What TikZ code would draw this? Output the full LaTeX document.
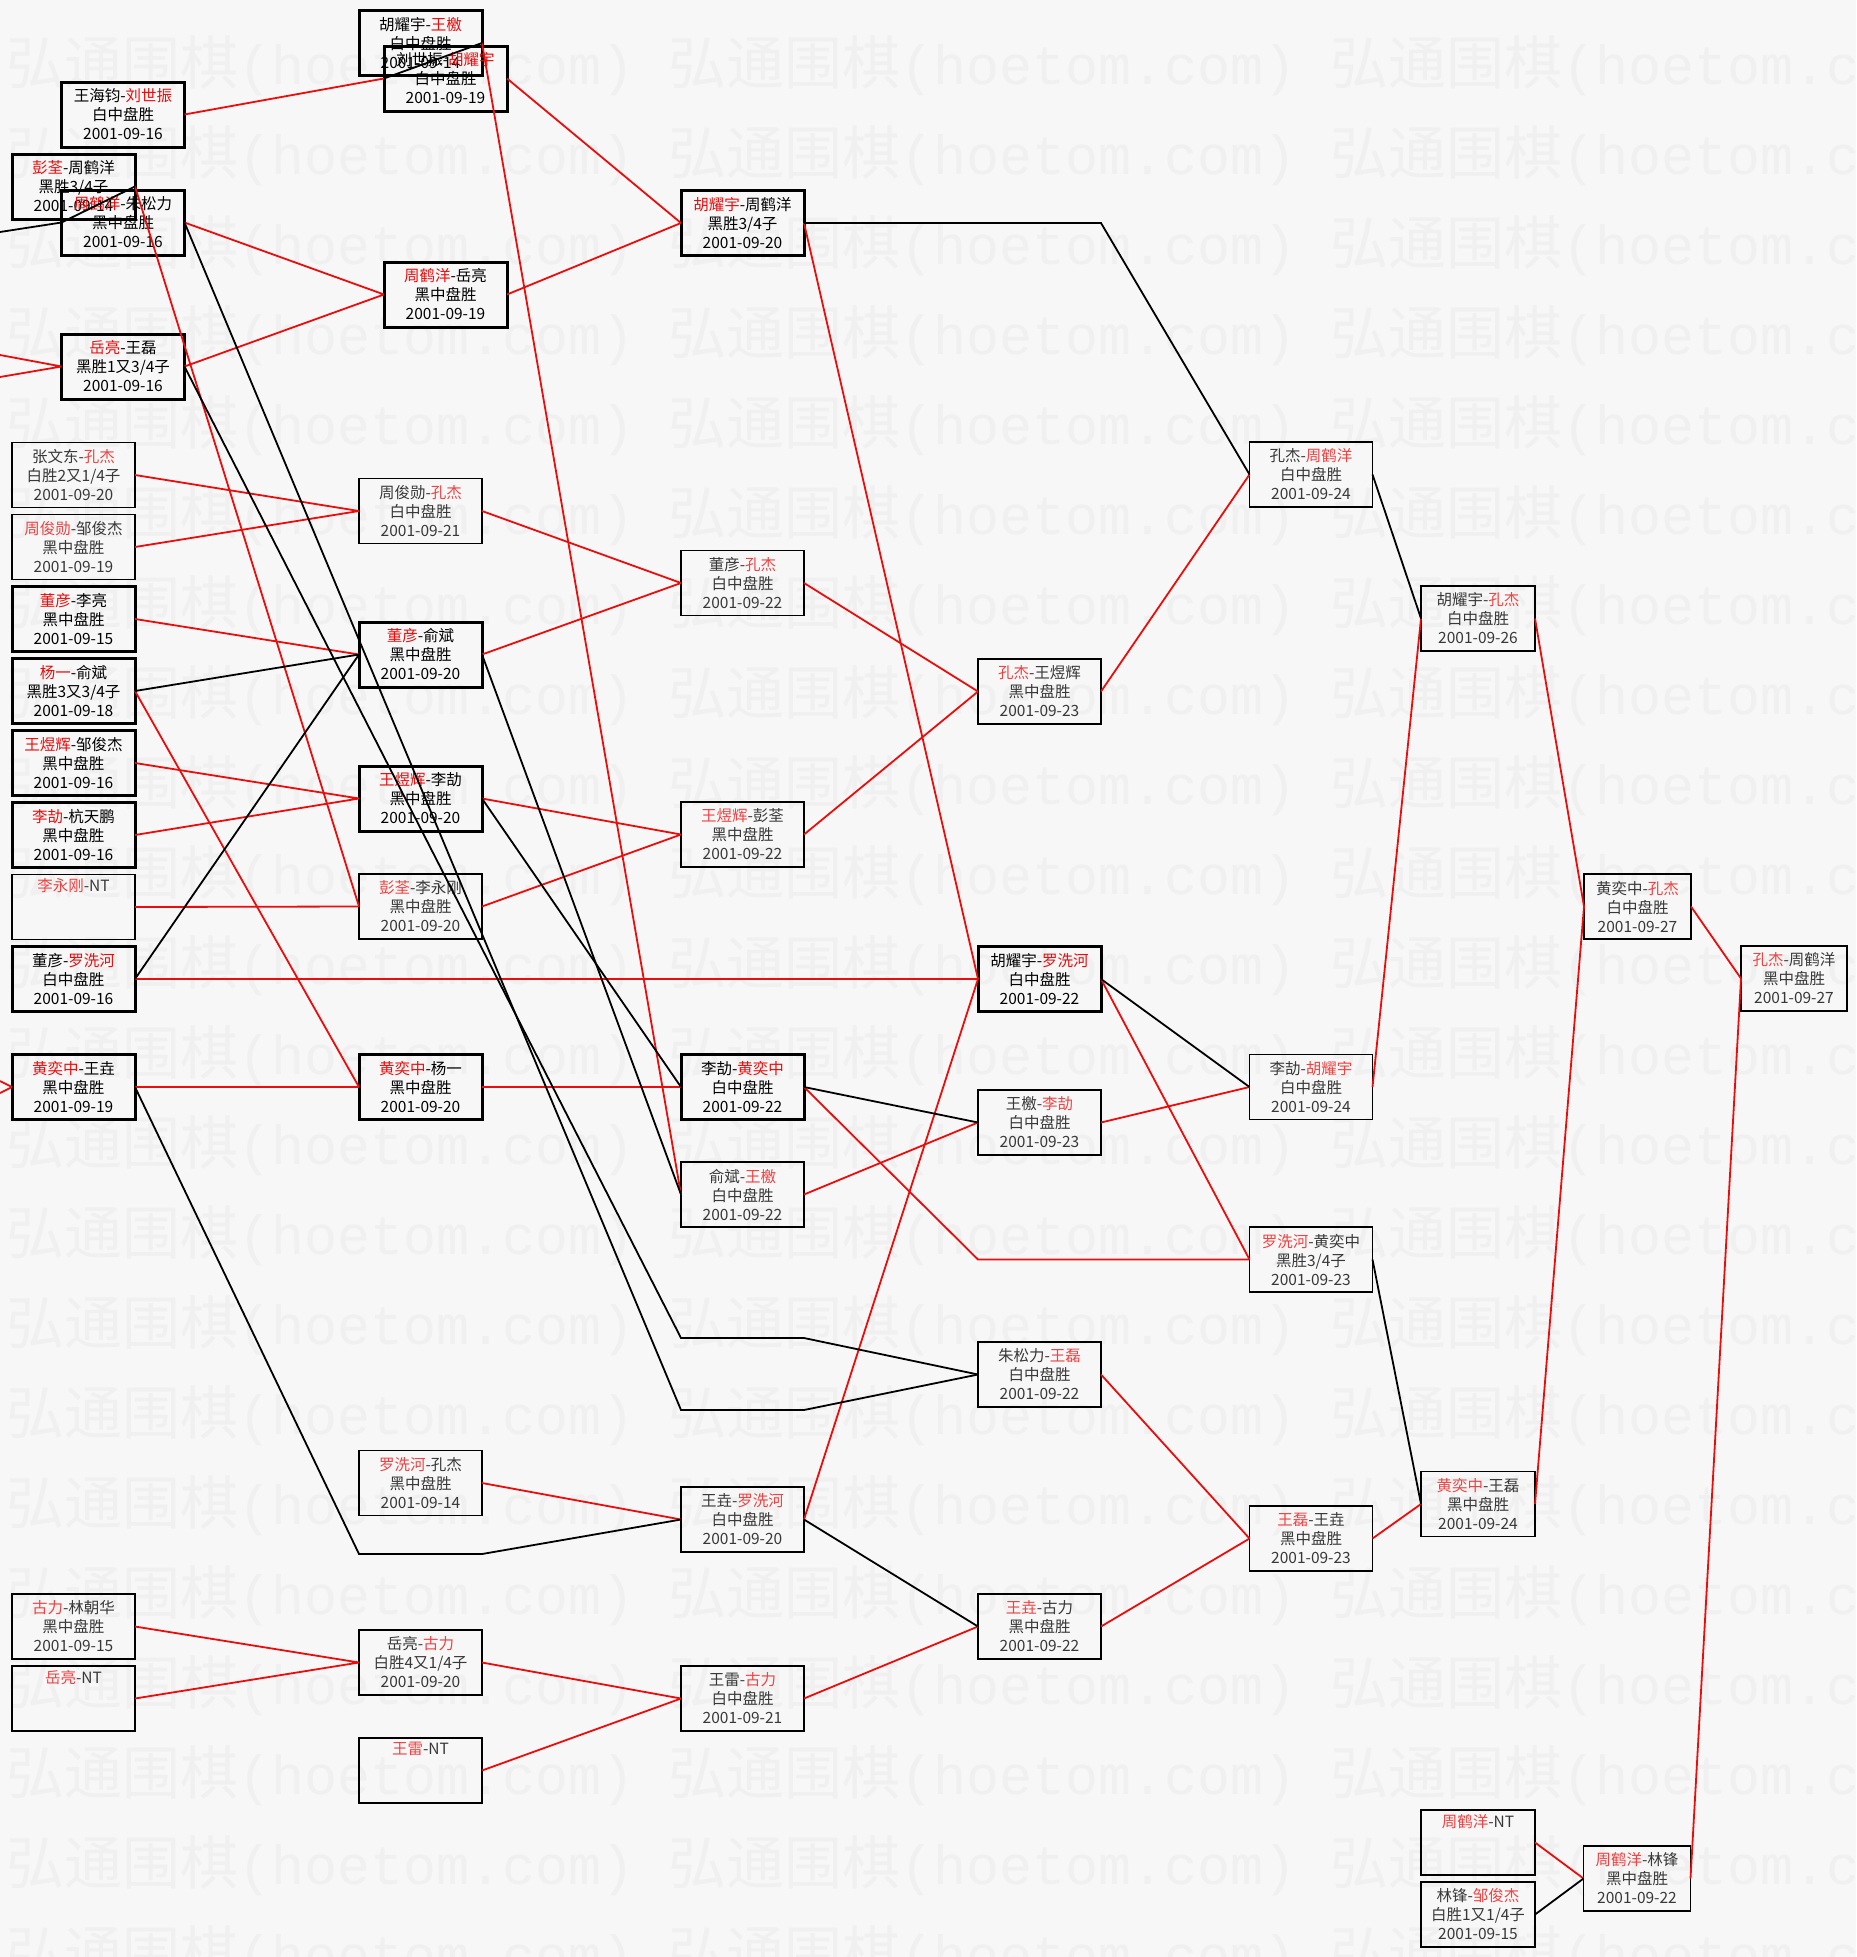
\documentclass[tikz,border=0pt]{standalone}
\usepackage{fontspec}
\newfontfamily\cjk{Noto Sans CJK SC}
\newfontfamily\wmlatin{Liberation Mono}
\usetikzlibrary{positioning}

\definecolor{winred}{RGB}{235,12,12}
\definecolor{paper}{RGB}{247,247,247}
\definecolor{wmgray}{RGB}{240,240,240}
\colorlet{wincol}{winred}
\newcommand{\winner}[1]{\textcolor{wincol}{#1}}

\begin{document}
\begin{tikzpicture}[x=1pt,y=-1pt]

\pgfmathsetmacro{\W}{123}
\pgfmathsetmacro{\Ht}{65}

\tikzset{
    game/.style={draw, line width=1.6pt, minimum width=\W pt, minimum height=\Ht pt,
      inner sep=0pt, outer sep=0pt, align=center, text=black!78,
      font=\cjk\fontsize{15.5}{19}\selectfont,
      execute at begin node={\colorlet{wincol}{winred!78}}},
    keygame/.style={game, line width=3pt, text=black,
      execute at begin node={\colorlet{wincol}{winred}}},
    winline/.style={draw=winred, line width=1.8pt},
    loseline/.style={draw=black, line width=1.8pt},
    watermark/.style={anchor=west, text=wmgray, inner sep=0pt,
      font=\cjk\fontsize{58}{58}\selectfont}
}

%%%%%%%%%%%%%%%%%%%%%%%%%%%%%%%%%%%%%%%%%%%%%%%%%%%%%%%%%
%                       Begin Picture                   %
%%%%%%%%%%%%%%%%%%%%%%%%%%%%%%%%%%%%%%%%%%%%%%%%%%%%%%%%%

\useasboundingbox (0,0) rectangle (1856,1957);
\fill[paper] (0,0) rectangle (1856,1957);

%background watermark
\begin{scope}
\clip (0,0) rectangle (1856,1957);
\foreach \r in {0,...,21}{
  \foreach \c in {0,1,2}{
    \node[watermark] (wm-\r-\c) at (6+662*\c, 66+90*\r)
      {弘通围棋{\wmlatin\fontsize{55}{55}\selectfont (hoetom.com)}};
  }
}
\end{scope}

%first column
\node[keygame] (a1) at (123,114.5) {王海钧-\winner{刘世振}\\白中盘胜\\2001-09-16};
\node[keygame] (a2) at (73.5,186.5) {\winner{彭荃}-周鹤洋\\黑胜3/4子\\2001-09-14};
\node[keygame] (a3) at (123,222.5) {\winner{周鹤洋}-朱松力\\黑中盘胜\\2001-09-16};
\node[keygame] (a4) at (123,366.5) {\winner{岳亮}-王磊\\黑胜1又3/4子\\2001-09-16};
\node[game] (a5) at (73.5,475) {张文东-\winner{孔杰}\\白胜2又1/4子\\2001-09-20};
\node[game, below=7pt of a5] (a6) {\winner{周俊勋}-邹俊杰\\黑中盘胜\\2001-09-19};
\node[keygame, below=7pt of a6] (a7) {\winner{董彦}-李亮\\黑中盘胜\\2001-09-15};
\node[keygame, below=7pt of a7] (a8) {\winner{杨一}-俞斌\\黑胜3又3/4子\\2001-09-18};
\node[keygame, below=7pt of a8] (a9) {\winner{王煜辉}-邹俊杰\\黑中盘胜\\2001-09-16};
\node[keygame, below=7pt of a9] (a10) {\winner{李劼}-杭天鹏\\黑中盘胜\\2001-09-16};
\node[game, below=7pt of a10] (a11) {\winner{李永刚}-NT\\\strut\\\strut};
\node[keygame, below=7pt of a11] (a12) {董彦-\winner{罗洗河}\\白中盘胜\\2001-09-16};
\node[keygame] (a13) at (73.5,1087) {\winner{黄奕中}-王垚\\黑中盘胜\\2001-09-19};
\node[game] (a14) at (73.5,1626.5) {\winner{古力}-林朝华\\黑中盘胜\\2001-09-15};
\node[game, below=7pt of a14] (a15) {\winner{岳亮}-NT\\\strut\\\strut};

%second column
\node[keygame] (b1) at (420.5,43) {胡耀宇-\winner{王檄}\\白中盘胜\\2001-09-14};
\node[keygame] (b2) at (445.5,78.5) {刘世振-\winner{胡耀宇}\\白中盘胜\\2001-09-19};
\node[keygame] (b3) at (445.5,294.5) {\winner{周鹤洋}-岳亮\\黑中盘胜\\2001-09-19};
\node[game] (b4) at (420.5,511) {周俊勋-\winner{孔杰}\\白中盘胜\\2001-09-21};
\node[keygame] (b5) at (420.5,654.5) {\winner{董彦}-俞斌\\黑中盘胜\\2001-09-20};
\node[keygame] (b6) at (420.5,798.5) {\winner{王煜辉}-李劼\\黑中盘胜\\2001-09-20};
\node[game] (b7) at (420.5,906.5) {\winner{彭荃}-李永刚\\黑中盘胜\\2001-09-20};
\node[keygame] (b8) at (420.5,1087) {\winner{黄奕中}-杨一\\黑中盘胜\\2001-09-20};
\node[game] (b9) at (420.5,1483) {\winner{罗洗河}-孔杰\\黑中盘胜\\2001-09-14};
\node[game] (b10) at (420.5,1662.5) {岳亮-\winner{古力}\\白胜4又1/4子\\2001-09-20};
\node[game] (b11) at (420.5,1770.5) {\winner{王雷}-NT\\\strut\\\strut};

%third column
\node[keygame] (c1) at (742.5,223) {\winner{胡耀宇}-周鹤洋\\黑胜3/4子\\2001-09-20};
\node[game] (c2) at (742.5,583) {董彦-\winner{孔杰}\\白中盘胜\\2001-09-22};
\node[game] (c3) at (742.5,834.5) {\winner{王煜辉}-彭荃\\黑中盘胜\\2001-09-22};
\node[keygame] (c4) at (742.5,1087) {李劼-\winner{黄奕中}\\白中盘胜\\2001-09-22};
\node[game] (c5) at (742.5,1194.5) {俞斌-\winner{王檄}\\白中盘胜\\2001-09-22};
\node[game] (c6) at (742.5,1519.5) {王垚-\winner{罗洗河}\\白中盘胜\\2001-09-20};
\node[game] (c7) at (742.5,1698.5) {王雷-\winner{古力}\\白中盘胜\\2001-09-21};

%fourth column
\node[game] (d1) at (1039.5,691.5) {\winner{孔杰}-王煜辉\\黑中盘胜\\2001-09-23};
\node[keygame] (d2) at (1039.5,979) {胡耀宇-\winner{罗洗河}\\白中盘胜\\2001-09-22};
\node[game] (d3) at (1039.5,1122.5) {王檄-\winner{李劼}\\白中盘胜\\2001-09-23};
\node[game] (d4) at (1039.5,1374.5) {朱松力-\winner{王磊}\\白中盘胜\\2001-09-22};
\node[game] (d5) at (1039.5,1626.5) {\winner{王垚}-古力\\黑中盘胜\\2001-09-22};

%fifth column
\node[game] (e1) at (1311,474.5) {孔杰-\winner{周鹤洋}\\白中盘胜\\2001-09-24};
\node[game] (e2) at (1311,1087) {李劼-\winner{胡耀宇}\\白中盘胜\\2001-09-24};
\node[game] (e3) at (1311,1259.5) {\winner{罗洗河}-黄奕中\\黑胜3/4子\\2001-09-23};
\node[game] (e4) at (1311,1538.5) {\winner{王磊}-王垚\\黑中盘胜\\2001-09-23};

%sixth column
\node[game, minimum width=114pt] (f1) at (1478,618.5) {胡耀宇-\winner{孔杰}\\白中盘胜\\2001-09-26};
\node[game, minimum width=114pt] (f2) at (1478,1504) {\winner{黄奕中}-王磊\\黑中盘胜\\2001-09-24};
\node[game, minimum width=114pt] (f3) at (1478,1842.5) {\winner{周鹤洋}-NT\\\strut\\\strut};
\node[game, minimum width=114pt, below=7pt of f3] (f4) {林锋-\winner{邹俊杰}\\白胜1又1/4子\\2001-09-15};

%seventh column
\node[game, minimum width=107pt] (g1) at (1637.5,906.5) {黄奕中-\winner{孔杰}\\白中盘胜\\2001-09-27};
\node[game, minimum width=107pt] (g2) at (1637,1878.5) {\winner{周鹤洋}-林锋\\黑中盘胜\\2001-09-22};

%final
\node[game, minimum width=106pt] (h1) at (1794,978.5) {\winner{孔杰}-周鹤洋\\黑中盘胜\\2001-09-27};

%loose ends and bends
\coordinate (offA) at (0,232);
\coordinate (offB) at (0,355);
\coordinate (offC) at (0,377);
\coordinate (offD) at (0,1081);
\coordinate (offE) at (0,1093);
\coordinate (zhu1) at (681,1410);
\coordinate (zhu2) at (804,1410);
\coordinate (lei1) at (681,1338);
\coordinate (lei2) at (804,1338);
\coordinate (yao1) at (359,1554);
\coordinate (yao2) at (482,1554);

%winners
\draw[winline] (offB) -- (a4.west) (offC) -- (a4.west);
\draw[winline] (offD) -- (a13.west) (offE) -- (a13.west);
\draw[winline] (a1.east) -- (b2.west);
\draw[winline] (a2.east) -- (b7.west);
\draw[winline] (a3.east) -- (b3.west) (a4.east) -- (b3.west);
\draw[winline] (a5.east) -- (b4.west) (a6.east) -- (b4.west);
\draw[winline] (a7.east) -- (b5.west);
\draw[winline] (a8.east) -- (b8.west);
\draw[winline] (a9.east) -- (b6.west) (a10.east) -- (b6.west);
\draw[winline] (a11.east) -- (b7.west);
\draw[winline] (a12.east) -- (d2.west);
\draw[winline] (a13.east) -- (b8.west);
\draw[winline] (a14.east) -- (b10.west) (a15.east) -- (b10.west);

\draw[winline] (b1.east) -- (c5.west);
\draw[winline] (b2.east) -- (c1.west) (b3.east) -- (c1.west);
\draw[winline] (b4.east) -- (c2.west) (b5.east) -- (c2.west);
\draw[winline] (b6.east) -- (c3.west) (b7.east) -- (c3.west);
\draw[winline] (b8.east) -- (c4.west);
\draw[winline] (b9.east) -- (c6.west);
\draw[winline] (b10.east) -- (c7.west) (b11.east) -- (c7.west);

\draw[winline] (c1.east) -- (d2.west);
\draw[winline] (c2.east) -- (d1.west) (c3.east) -- (d1.west);
\draw[winline] (c4.east) -- (d2.west |- e3.west) -- (e3.west);
\draw[winline] (c5.east) -- (d3.west);
\draw[winline] (c6.east) -- (d2.west);
\draw[winline] (c7.east) -- (d5.west);

\draw[winline] (d1.east) -- (e1.west);
\draw[winline] (d2.east) -- (e3.west);
\draw[winline] (d3.east) -- (e2.west);
\draw[winline] (d4.east) -- (e4.west) (d5.east) -- (e4.west);

\draw[winline] (e2.east) -- (f1.west);
\draw[winline] (e4.east) -- (f2.west);
\draw[winline] (f1.east) -- (g1.west) (f2.east) -- (g1.west);
\draw[winline] (f3.east) -- (g2.west);
\draw[winline] (g1.east) -- (h1.west) (g2.east) -- (h1.west);

%losers
\draw[loseline] (offA) -- (a3.west);
\draw[loseline] (a2.east) -- (a3.west);
\draw[loseline] (a3.east) -- (zhu1) -- (zhu2) -- (d4.west);
\draw[loseline] (a4.east) -- (lei1) -- (lei2) -- (d4.west);
\draw[loseline] (a8.east) -- (b5.west) (a12.east) -- (b5.west);
\draw[loseline] (a13.east) -- (yao1) -- (yao2) -- (c6.west);
\draw[loseline] (b1.east) -- (b2.west);
\draw[loseline] (b5.east) -- (c5.west);
\draw[loseline] (b6.east) -- (c4.west);
\draw[loseline] (c1.east) -- (d2.east |- c1.east) -- (e1.west);
\draw[loseline] (c4.east) -- (d3.west);
\draw[loseline] (c6.east) -- (d5.west);
\draw[loseline] (d2.east) -- (e2.west);
\draw[loseline] (e1.east) -- (f1.west);
\draw[loseline] (e3.east) -- (f2.west);
\draw[loseline] (f4.east) -- (g2.west);

\end{tikzpicture}
\end{document}
